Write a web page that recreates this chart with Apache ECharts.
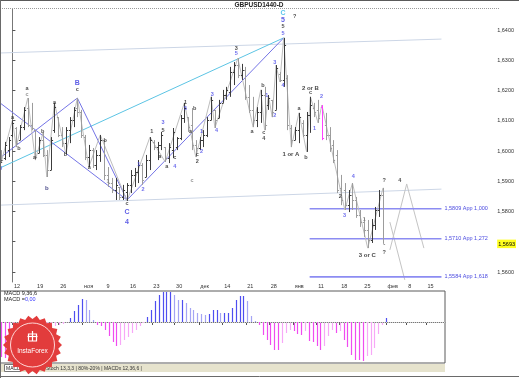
<!DOCTYPE html>
<html><head><meta charset="utf-8">
<script src="https://cdn.jsdelivr.net/npm/echarts@6/dist/echarts.min.js"></script>
<style>html,body{margin:0;padding:0;background:#fff}#c{width:519px;height:378px}</style>
</head><body><div id="c"></div>
<script>
// ---------- DATA ----------
const firstBar = -3; // index of first daily bar (0 = Mon 12 Oct)
const barOpen  = [1.5997,1.5977,1.6003,1.6053,1.6076,1.6036,1.6079,1.6142,1.6086,1.6069,1.5993,1.6036,1.5987,1.5937,1.6069,1.6112,1.6053,1.6026,1.6069,1.6102,1.6142,1.6129,1.6046,1.5980,1.6003,1.5954,1.5987,1.6036,1.5921,1.5894,1.5871,1.5881,1.5848,1.5864,1.5888,1.5921,1.5931,1.5954,1.5914,1.5970,1.6030,1.6013,1.6020,1.6013,1.5977,1.6003,1.6013,1.6043,1.6109,1.6112,1.6086,1.6020,1.6010,1.6036,1.6053,1.6102,1.6136,1.6109,1.6159,1.6185,1.6195,1.6261,1.6284,1.6251,1.6268,1.6179,1.6136,1.6102,1.6129,1.6185,1.6152,1.6169,1.6136,1.6255,1.6235,1.6241,1.6076,1.6036,1.6069,1.6093,1.6053,1.6119,1.6142,1.6136,1.6145,1.6086,1.6053,1.6020,1.5987,1.5878,1.5871,1.5821,1.5855,1.5838,1.5788,1.5765,1.5739,1.5706,1.5755,1.5805,1.5855];
const barHigh  = [1.6003,1.6030,1.6046,1.6102,1.6079,1.6086,1.6145,1.6175,1.6159,1.6069,1.6046,1.6060,1.6003,1.6046,1.6159,1.6112,1.6079,1.6079,1.6112,1.6145,1.6175,1.6136,1.6053,1.6020,1.6010,1.6003,1.6053,1.6036,1.5947,1.5911,1.5911,1.5881,1.5888,1.5894,1.5937,1.5944,1.5970,1.5960,1.5987,1.6046,1.6036,1.6030,1.6063,1.6013,1.6026,1.6076,1.6046,1.6119,1.6159,1.6112,1.6142,1.6036,1.6046,1.6069,1.6112,1.6179,1.6136,1.6169,1.6202,1.6212,1.6278,1.6294,1.6307,1.6288,1.6278,1.6218,1.6179,1.6145,1.6202,1.6212,1.6185,1.6169,1.6284,1.6261,1.6374,1.6251,1.6086,1.6079,1.6126,1.6102,1.6129,1.6179,1.6159,1.6169,1.6152,1.6126,1.6079,1.6036,1.6003,1.5921,1.5894,1.5871,1.5894,1.5848,1.5805,1.5779,1.5772,1.5775,1.5815,1.5871,1.5878];
const barLow   = [1.5960,1.5970,1.5980,1.6046,1.6013,1.6036,1.6069,1.6079,1.6069,1.5970,1.5993,1.5980,1.5914,1.5937,1.6060,1.6046,1.6013,1.5990,1.6026,1.6079,1.6112,1.6043,1.5970,1.5947,1.5944,1.5937,1.5964,1.5904,1.5881,1.5861,1.5838,1.5838,1.5838,1.5835,1.5861,1.5881,1.5894,1.5888,1.5914,1.5937,1.6003,1.5970,1.6003,1.5964,1.5960,1.5977,1.6003,1.6036,1.6093,1.6063,1.6003,1.5980,1.6003,1.6013,1.6046,1.6102,1.6076,1.6109,1.6159,1.6169,1.6179,1.6218,1.6241,1.6235,1.6169,1.6126,1.6079,1.6079,1.6093,1.6069,1.6136,1.6112,1.6136,1.6228,1.6212,1.6069,1.6013,1.6036,1.6026,1.6046,1.5997,1.6060,1.6112,1.6093,1.6036,1.6036,1.5997,1.5960,1.5861,1.5821,1.5805,1.5798,1.5805,1.5779,1.5749,1.5716,1.5679,1.5696,1.5739,1.5782,1.5693];
const barClose = [1.5970,1.6020,1.6036,1.6093,1.6026,1.6079,1.6136,1.6086,1.6076,1.5980,1.6036,1.5987,1.5937,1.6036,1.6145,1.6053,1.6026,1.6069,1.6102,1.6136,1.6129,1.6053,1.5980,1.6003,1.5954,1.5987,1.6036,1.5921,1.5894,1.5871,1.5888,1.5848,1.5871,1.5888,1.5921,1.5931,1.5954,1.5904,1.5970,1.6036,1.6013,1.6020,1.6053,1.5977,1.6013,1.6063,1.6043,1.6109,1.6142,1.6079,1.6020,1.6010,1.6036,1.6053,1.6102,1.6169,1.6102,1.6159,1.6185,1.6202,1.6261,1.6284,1.6251,1.6268,1.6179,1.6136,1.6102,1.6129,1.6185,1.6086,1.6175,1.6129,1.6274,1.6235,1.6350,1.6086,1.6036,1.6069,1.6112,1.6053,1.6119,1.6152,1.6129,1.6109,1.6043,1.6053,1.6010,1.5970,1.5871,1.5838,1.5821,1.5855,1.5838,1.5788,1.5765,1.5739,1.5706,1.5755,1.5805,1.5855,1.5693];
const highlightBar = 81;
const lastPrice = 1.5693;

const macdValues = [-35,-36,-36,-35,-33,-30,-26,-22,-18,-15,-12,-9,-7,-5,-4,-3,-2,-1,4,11,17,23,22,12,2,-3,-4,-8,-14,-20,-24,-23,-18,-15,-11,-8,-4,-1,5,12,21,27,30,30,30,27,22,22,19,14,12,9,8,7,8,12,12,9,9,9,14,22,26,26,21,6,1,-3,-13,-18,-23,-28,-28,-21,-11,-8,-9,-12,-13,-9,-19,-20,-24,-28,-24,-14,-8,-11,-9,-18,-25,-33,-38,-38,-39,-34,-33,-26,-12,-3,4];

const zigzag = [[-3,1.5960],[0,1.6102],[1,1.6013],[4,1.6175],[6,1.5970],[8,1.6060],[9,1.5914],[11,1.6159],[14,1.5990],[17,1.6175],[20,1.5947],[23,1.6053],[30,1.5835],[36,1.6046],[40,1.5964],[45,1.6159],[48,1.5980],[52,1.6179],[53,1.6076],[59,1.6307],[63,1.6079],[65,1.6202],[66,1.6069],[67,1.6185],[68,1.6112],[69,1.6284],[70,1.6228],[71,1.6374],[73,1.6013],[75,1.6126],[77,1.5997],[78,1.6179],[80,1.6093],[81,1.6152],[87,1.5805],[89,1.5894],[93,1.5679],[97,1.5878]];
const waveLines = [
  [[-3.25,1.6159],[30,1.5838]],
  [[-3.25,1.5977],[17,1.6175]],
  [[17,1.6175],[30,1.5838]],
  [[30,1.5838],[71,1.6374]]
];
const trendLine = [[-3.25,1.5944],[71,1.6374]];
const channelUpper = [[-3.25,1.6324],[112.3,1.6370]];
const channelLower = [[-3.25,1.5821],[112.3,1.5874]];
const projUp = [[98.8,1.5673],[103.2,1.5891],[107.7,1.5679]];
const projDown = [[98.8,1.5765],[102.7,1.5574]];
const fibLevels = [1.5809,1.5710,1.5584];
const fibTexts = ['1,5809 App 1,000','1,5710 App 1,272','1,5584 App 1,618'];
const fibFrom = 77.8, fibTo = 112.3;

const tickPos  = [0,6,12,18.2,24,30.1,36.2,42.1,48.4,54.6,60.6,66.7,72.9,79,85,91,97,102.4,107.4];
const tickText = ['12','19','26','ноя','9','16','23','30','дек','14','21','28','янв','11','18','25','фев','8','15'];
const yTicks = [1.56,1.57,1.58,1.59,1.60,1.61,1.62,1.63,1.64];
const yLabels = [1.56,1.5693,1.58,1.59,1.60,1.61,1.62,1.63,1.64];

const lblBlack = [[0,1.6112,'a'],[1.7,1.6007,'b'],[3.8,1.6208,'a'],[5.8,1.5980,'a'],[7.9,1.6066,'b'],[11,1.6159,'a'],[13.9,1.5990,'b'],[17,1.6202,'c'],[20.1,1.5947,'a'],[24.3,1.6036,'b'],[30,1.5825,'c'],[-3,1.5964,'c'],[36.5,1.6066,'1'],[39.4,1.6069,'5'],[38.6,1.5983,'a'],[40.4,1.5950,'a'],[42.5,1.5977,'c'],[45.3,1.6162,'1'],[47.7,1.6139,'b'],[46.6,1.6066,'a'],[48.4,1.5987,'c'],[48.4,1.5964,'2'],[58.6,1.6340,'3'],[62.7,1.6066,'a'],[65.6,1.6218,'b'],[65.8,1.6060,'c'],[65.8,1.6040,'4'],[70.8,1.6410,'5'],[73.9,1.6446,'?'],[75,1.6142,'a'],[78,1.6192,'c'],[76.8,1.5980,'b'],[85.8,1.5848,'2'],[97.3,1.5904,'?'],[101.4,1.5901,'4'],[97.3,1.5663,'?']];
const lblGray = [[47,1.5901,'c'],[25,1.5898,'1'],[92.1,1.5772,'1'],[3.8,1.6188,'c']];
const lblNavy = [[9,1.5878,'b']];
const lblBig = [[72.9,1.5990,'1 or A'],[78,1.6208,'2 or B'],[92.9,1.5656,'3 or C']];
const lblBlue = [[33.1,1.5957,'1'],[34.2,1.5874,'2'],[39.4,1.6093,'3'],[42.5,1.5950,'4'],[45.3,1.6142,'5'],[49.5,1.6066,'1'],[49.5,1.6000,'2'],[52.3,1.6188,'3'],[53.4,1.6069,'4'],[58.6,1.6324,'5'],[66.6,1.6182,'1'],[68.7,1.6119,'2'],[68.7,1.6291,'3'],[70.8,1.6218,'4'],[70.8,1.6390,'5'],[79.1,1.6073,'1'],[80.9,1.6179,'2'],[86.9,1.5788,'3'],[89.2,1.5917,'4'],[-3.1,1.5941,'4']];
const lblBlueBig = [[17,1.6225,'B'],[30,1.5798,'C'],[30,1.5765,'4'],[70.8,1.6433,'5']];
const lblCyan = [[70.8,1.6456,'C']];

// ---------- CHART ----------
const FONT = 'Liberation Sans';
const chart = echarts.init(document.getElementById('c'), null, {renderer:'canvas'});

function labelSeries(arr, color, size, weight) {
  return {
    type:'scatter', xAxisIndex:0, yAxisIndex:0, symbolSize:0, silent:true, clip:false, z:6,
    data: arr.map(d => ({value:[d[0], d[1]], name:d[2]})),
    label:{show:true, position:'inside', formatter:p => p.name, color:color,
      fontSize:size, fontWeight:weight, fontFamily:FONT}
  };
}
function lineSeries(data, color, width, type, z) {
  return {type:'line', xAxisIndex:0, yAxisIndex:0, data:data, symbol:'none', silent:true,
    lineStyle:{color:color, width:width, type:type||'solid'}, z:z||2, animation:false};
}

const ohlcData = barOpen.map((o,k)=>[firstBar+k, o, barHigh[k], barLow[k], barClose[k]]);
const macdData = macdValues.map((v,k)=>[firstBar+k, v]);

const series = [];
series.push(lineSeries(channelUpper,'#ccd6e6',1));
series.push(lineSeries(channelLower,'#ccd6e6',1));
series.push(lineSeries(trendLine,'#5cc4e4',1));
waveLines.forEach(w => series.push(lineSeries(w,'#7474e6',1)));
series.push(lineSeries(zigzag,'#bdbdbd',1,'solid',3));
series.push(lineSeries(projUp,'#c4c4c4',1));
series.push(lineSeries(projDown,'#c4c4c4',1));
fibLevels.forEach((lv,k) => {
  series.push({type:'line', xAxisIndex:0, yAxisIndex:0, symbol:'none', silent:true, z:2,
    data:[[fibFrom,lv],[fibTo,lv]], lineStyle:{color:'#8c8cf2', width:1.6},
    endLabel:{show:true, formatter:fibTexts[k], color:'#4a4ae0', fontSize:5.5, fontFamily:FONT, distance:3}});
});
series.push({
  type:'custom', xAxisIndex:0, yAxisIndex:0, data:ohlcData, z:4, clip:true,
  encode:{x:0, y:[1,2,3,4]},
  renderItem:(params, api) => {
    const i = api.value(0);
    const h = api.coord([i, api.value(2)]);
    const l = api.coord([i, api.value(3)]);
    const o = api.coord([i, api.value(1)]);
    const c = api.coord([i, api.value(4)]);
    const up = api.value(4) >= api.value(1);
    const col = i === highlightBar ? '#ff40ff' : (up ? '#3c3c3c' : '#9c9c9c');
    const x = Math.round(h[0]) + 0.5;
    const st = {stroke:col, lineWidth:1};
    return {type:'group', children:[
      {type:'line', shape:{x1:x, y1:h[1], x2:x, y2:l[1]}, style:st},
      {type:'line', shape:{x1:x-1.6, y1:Math.round(o[1])+0.5, x2:x, y2:Math.round(o[1])+0.5}, style:st},
      {type:'line', shape:{x1:x, y1:Math.round(c[1])+0.5, x2:x+1.6, y2:Math.round(c[1])+0.5}, style:st}
    ]};
  }
});
series.push(labelSeries(lblBlack,'#222',5.5,'bold'));
series.push(labelSeries(lblGray,'#777',5.5,'bold'));
series.push(labelSeries(lblNavy,'#1c1c6a',6,'bold'));
series.push(labelSeries(lblBig,'#111',6,'bold'));
series.push(labelSeries(lblBlue,'#4a4ae8',5.5,'bold'));
series.push(labelSeries(lblBlueBig,'#3434e0',7,'bold'));
series.push(labelSeries(lblCyan,'#2fb6e6',7,'bold'));
series.push({
  type:'custom', xAxisIndex:1, yAxisIndex:1, data:macdData, z:3, clip:true,
  encode:{x:0, y:1},
  renderItem:(params, api) => {
    const k = params.dataIndex;
    const v = api.value(1), prev = k>0 ? macdValues[k-1] : v;
    const p = api.coord([api.value(0), v]);
    const z0 = api.coord([api.value(0), 0]);
    let col;
    if (v >= 0) col = v >= prev ? '#4e4ef0' : '#a4a4f4';
    else col = v <= prev ? '#f04cf0' : '#f7a8f7';
    const x = Math.round(p[0]) + 0.5;
    return {type:'line', shape:{x1:x, y1:z0[1], x2:x, y2:p[1]}, style:{stroke:col, lineWidth:1.2}};
  },
  markLine:{silent:true, symbol:'none', label:{show:false}, data:[{yAxis:0}],
    lineStyle:{color:'#d0d0d0', type:'dotted', width:1}, animation:false}
});

// logo star polygon
const starPts = [];
for (let k=0;k<44;k++){ const a = k*Math.PI/22; const r = k%2 ? 26 : 29.5;
  starPts.push([32.5 + r*Math.cos(a), 345 + r*Math.sin(a)]); }

const option = {
  animation:false,
  backgroundColor:'#fff',
  textStyle:{fontFamily:FONT},
  grid:[
    {left:0, top:9, width:499, height:273, show:false},
    {left:0, top:291, width:445, height:72, show:true, borderColor:'#5a5a5a', borderWidth:1, backgroundColor:'#fff'}
  ],
  xAxis:[
    {gridIndex:0, type:'value', min:-3.247, max:126.36, show:false},
    {gridIndex:1, type:'value', min:-3.247, max:112.34, position:'top', offset:9,
      axisLine:{show:true, lineStyle:{color:'#777'}},
      axisTick:{show:true, inside:true, length:3, customValues:tickPos, lineStyle:{color:'#555'}},
      axisLabel:{show:true, inside:true, customValues:tickPos, margin:1, align:'left',
        fontSize:5.5, color:'#333', fontFamily:FONT, padding:[0,0,0,1.5],
        formatter:v => { const k = tickPos.findIndex(p=>Math.abs(p-v)<1e-6); return k>=0 ? tickText[k] : ''; }},
      splitLine:{show:false}}
  ],
  yAxis:[
    {gridIndex:0, type:'value', min:1.556694, max:1.646942, position:'right',
      axisLine:{show:true, lineStyle:{color:'#777'}},
      axisTick:{show:true, length:3, customValues:yTicks, lineStyle:{color:'#555'}},
      axisLabel:{show:true, customValues:yLabels, margin:2, fontSize:5.5, color:'#333', fontFamily:FONT,
        formatter:v => { const s = v.toFixed(4).replace('.',','); return Math.abs(v-lastPrice)<1e-6 ? '{cur|'+s+'}' : s; },
        rich:{cur:{backgroundColor:'#ffff20', color:'#000', fontSize:5.5, fontFamily:FONT, padding:[1.5,1,1,1]}}},
      splitLine:{show:false}},
    {gridIndex:1, type:'value', min:-41, max:31, show:false}
  ],
  series:series,
  graphic:[
    {type:'rect', shape:{x:0, y:0, width:519, height:1}, style:{fill:'#5a5a5a'}, z:10},
    {type:'line', shape:{x1:0, y1:8.5, x2:499, y2:8.5}, style:{stroke:'#9a9a9a', lineDash:[1,1], lineWidth:1}, z:10},
    {type:'text', x:259, y:4.8, style:{text:'GBPUSD1440-D', fill:'#222', font:'bold 6.5px "Liberation Sans"', textAlign:'center', textVerticalAlign:'middle'}, z:10},
    {type:'line', shape:{x1:0.5, y1:0, x2:0.5, y2:378}, style:{stroke:'#6a6a6a', lineWidth:1}, z:10},
    {type:'text', x:4, y:293.5, style:{text:'MACD 9,36,6', fill:'#222', font:'5.5px "Liberation Sans"', textVerticalAlign:'middle'}, z:10},
    {type:'text', x:4, y:299.5, style:{text:'{k|MACD =}{b|0,00}', font:'5.5px "Liberation Sans"', textVerticalAlign:'middle',
      rich:{k:{fill:'#222', fontSize:5.5}, b:{fill:'#3a3aff', fontSize:5.5}}}, z:10},
    {type:'rect', shape:{x:1, y:364, width:444, height:8}, style:{fill:'#e6e3cd'}, z:9},
    {type:'rect', shape:{x:4.5, y:364.5, width:16, height:7}, style:{fill:'#fff', stroke:'#777', lineWidth:1}, z:10},
    {type:'text', x:6, y:368.3, style:{text:'MACD', fill:'#222', font:'5px "Liberation Sans"', textVerticalAlign:'middle'}, z:10},
    {type:'text', x:46, y:368.3, style:{text:'Stoch 13,3,3 | 80%-20% | MACDx 12,36,6 |', fill:'#333', font:'5px "Liberation Sans"', textVerticalAlign:'middle'}, z:10},
    {type:'line', shape:{x1:0, y1:376.5, x2:519, y2:376.5}, style:{stroke:'#6a6a6a', lineWidth:1}, z:10},
    {type:'polygon', shape:{points:starPts}, style:{fill:'#e23c3c'}, z:20},
    {type:'circle', shape:{cx:32.5, cy:345, r:22}, style:{fill:'none', stroke:'#ffd6d6', lineWidth:1}, z:21},
    {type:'rect', shape:{x:28.5, y:334, width:8, height:7}, style:{fill:'none', stroke:'#fff', lineWidth:1.2}, z:21},
    {type:'line', shape:{x1:32.5, y1:331, x2:32.5, y2:341}, style:{stroke:'#fff', lineWidth:1.2}, z:21},
    {type:'line', shape:{x1:27.5, y1:336.5, x2:37.5, y2:336.5}, style:{stroke:'#fff', lineWidth:1.2}, z:21},
    {type:'text', x:32.5, y:351, style:{text:'InstaForex', fill:'#fff', font:'6.5px "Liberation Sans"', textAlign:'center', textVerticalAlign:'middle'}, z:21}
  ]
};
chart.setOption(option);
</script></body></html>
